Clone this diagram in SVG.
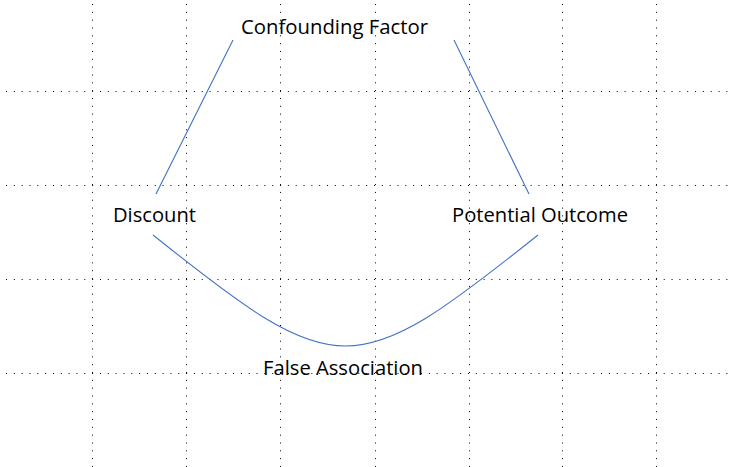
<svg xmlns="http://www.w3.org/2000/svg" width="731" height="467" viewBox="0 0 731 467">
<style>
.grid line{stroke:#000;stroke-width:1;stroke-dasharray:1 6.83;}
.lbl{font-family:"Open Sans","Liberation Sans",sans-serif;font-size:20px;fill:#000;}
.conn{fill:none;stroke:#4472C4;stroke-width:1.1;}
</style>
<rect width="731" height="467" fill="#fff"/>
<g class="grid">
<line x1="92.5" y1="4" x2="92.5" y2="467"/>
<line x1="186.5" y1="4" x2="186.5" y2="467"/>
<line x1="280.5" y1="4" x2="280.5" y2="467"/>
<line x1="375.5" y1="4" x2="375.5" y2="467"/>
<line x1="469.5" y1="4" x2="469.5" y2="467"/>
<line x1="562.5" y1="4" x2="562.5" y2="467"/>
<line x1="656.5" y1="4" x2="656.5" y2="467"/>
<line x1="6" y1="91.5" x2="731" y2="91.5"/>
<line x1="6" y1="185.5" x2="731" y2="185.5"/>
<line x1="6" y1="279.5" x2="731" y2="279.5"/>
<line x1="6" y1="373.5" x2="731" y2="373.5"/>
</g>
<g id="connectors">
<line class="conn" x1="233" y1="40" x2="156" y2="194"/>
<line class="conn" x1="454" y1="40" x2="529" y2="194"/>
<path class="conn" d="M153,235 C338,383 353,383 538,235"/>
</g>
<g id="confounding">
<text class="lbl" x="241" y="33.5" textLength="187" lengthAdjust="spacingAndGlyphs">Confounding Factor</text>
</g>
<g id="discount">
<text class="lbl" x="113" y="221.5" textLength="83" lengthAdjust="spacingAndGlyphs">Discount</text>
</g>
<g id="outcome">
<text class="lbl" x="452" y="221.5" textLength="176" lengthAdjust="spacingAndGlyphs">Potential Outcome</text>
</g>
<g id="false">
<text class="lbl" x="263" y="374.5" textLength="160" lengthAdjust="spacingAndGlyphs">False Association</text>
</g>
</svg>
